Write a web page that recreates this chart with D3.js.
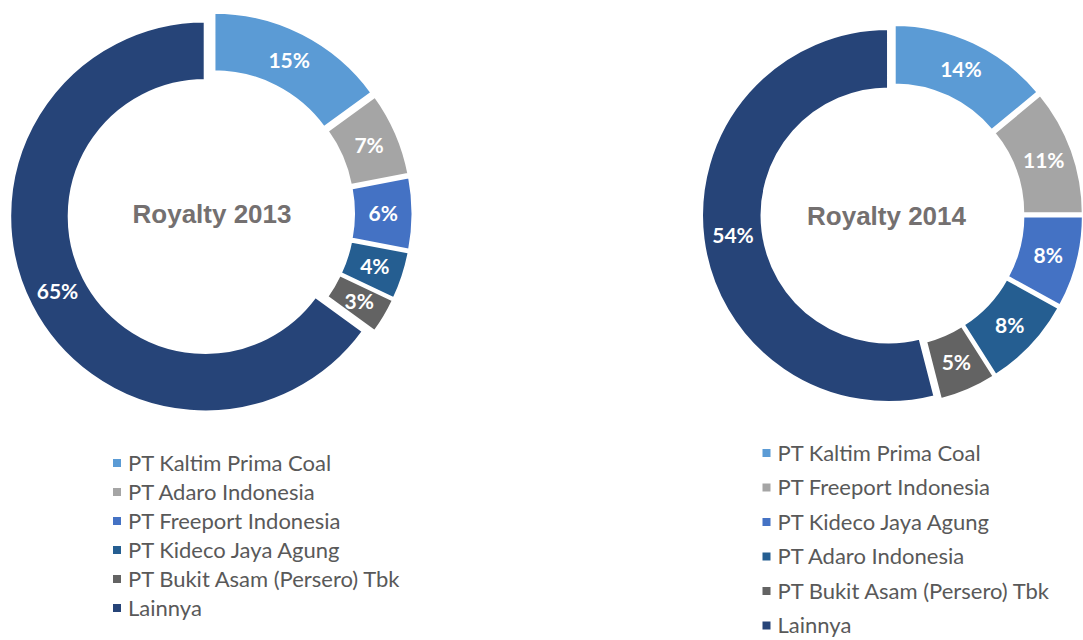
<!DOCTYPE html>
<html>
<head>
<meta charset="utf-8">
<script src="https://cdn.jsdelivr.net/npm/d3@7"></script>
<style>
  body { margin: 0; background: #fff; }
  svg { display: block; }
</style>
</head>
<body>
<svg width="1083" height="640"></svg>
<script>
// data
const companies2013 = ["PT Kaltim Prima Coal", "PT Adaro Indonesia", "PT Freeport Indonesia",
  "PT Kideco Jaya Agung", "PT Bukit Asam (Persero) Tbk", "Lainnya"];
const values2013 = [15, 7, 6, 4, 3, 65];

const companies2014 = ["PT Kaltim Prima Coal", "PT Freeport Indonesia", "PT Kideco Jaya Agung",
  "PT Adaro Indonesia", "PT Bukit Asam (Persero) Tbk", "Lainnya"];
const values2014 = [14, 11, 8, 8, 5, 54];

const sliceColors = ["#5b9bd5", "#a5a5a5", "#4472c4", "#255e91", "#636363", "#264478"];

const svg = d3.select("svg");

function drawDonut(names, values, title, opt) {
  const data = names.map(function (n, i) {
    return { name: n, value: values[i], color: sliceColors[i] };
  });

  const pie = d3.pie().sort(null).value(function (d) { return d.value; });
  const arc = d3.arc().innerRadius(opt.inner).outerRadius(opt.outer);

  const g = svg.append("g").attr("transform", "translate(" + opt.cx + "," + opt.cy + ")");

  const slices = g.selectAll("g.slice")
    .data(pie(data))
    .enter()
    .append("g")
    .attr("class", "slice")
    .attr("transform", function (d) {
      const a = (d.startAngle + d.endAngle) / 2;
      return "translate(" + Math.sin(a) * opt.explode + "," + (-Math.cos(a) * opt.explode) + ")";
    });

  slices.append("path")
    .attr("d", arc)
    .style("fill", function (d) { return d.data.color; })
    .style("stroke", "#fff")
    .style("stroke-width", 3);

  slices.append("text")
    .attr("transform", function (d) { return "translate(" + arc.centroid(d) + ")"; })
    .attr("text-anchor", "middle")
    .attr("dy", "0.36em")
    .attr("font-family", "Lato, 'Open Sans', sans-serif")
    .attr("font-weight", "bold")
    .style("font-size", "21px")
    .style("fill", "#fff")
    .text(function (d) { return d.data.value + "%"; });

  g.append("text")
    .attr("x", opt.titleDx)
    .attr("y", opt.titleDy)
    .attr("text-anchor", "middle")
    .attr("font-family", "'Liberation Sans', Arial, sans-serif")
    .attr("font-weight", "bold")
    .style("font-size", "26px")
    .style("fill", "#747070")
    .text(title);

  // legend
  const leg = svg.append("g").attr("transform", "translate(" + opt.legX + "," + opt.legY + ")");

  leg.selectAll("rect")
    .data(data)
    .enter()
    .append("rect")
    .attr("x", -4)
    .attr("y", function (d, i) { return i * opt.legStep - 4; })
    .attr("width", 8)
    .attr("height", 8)
    .style("fill", function (d) { return d.color; });

  leg.selectAll("text")
    .data(data)
    .enter()
    .append("text")
    .attr("x", 11)
    .attr("y", function (d, i) { return i * opt.legStep; })
    .attr("dy", "0.35em")
    .attr("font-family", "Lato, 'Open Sans', sans-serif")
    .style("font-size", "22px")
    .style("fill", "#595959")
    .text(function (d) { return d.name; });
}

drawDonut(companies2013, values2013, "Royalty 2013", {
  cx: 211, cy: 213.5, outer: 195.5, inner: 136, explode: 6.5,
  titleDx: 1, titleDy: 9.5,
  legX: 117, legY: 463, legStep: 29
});

drawDonut(companies2014, values2014, "Royalty 2014", {
  cx: 892.5, cy: 215, outer: 187, inner: 126.5, explode: 4,
  titleDx: -6, titleDy: 10,
  legX: 766.5, legY: 453, legStep: 34.5
});
</script>
</body>
</html>
